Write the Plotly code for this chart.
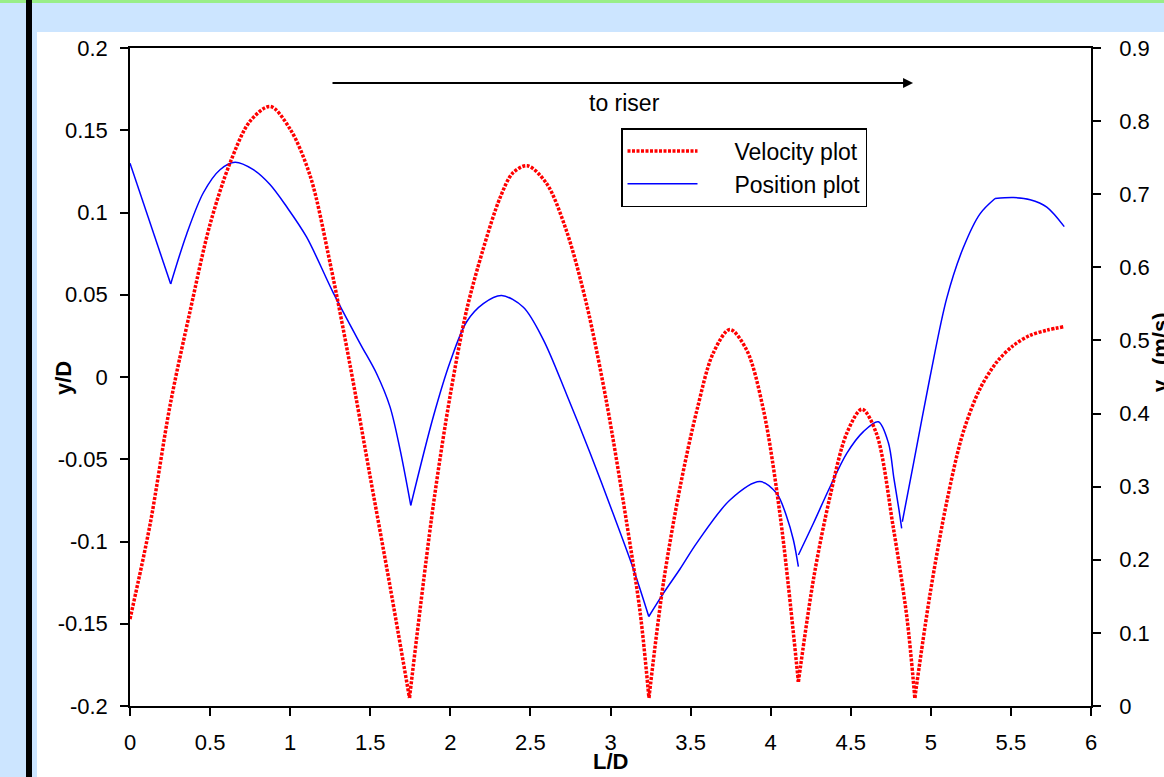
import plotly.graph_objects as go

# ---- data ----
vel_x = [0.00, 0.125, 0.25, 0.375, 0.50, 0.625, 0.75, 0.875, 1.00, 1.125, 1.25, 1.375, 1.50, 1.625, 1.745,
         1.895, 2.00, 2.10, 2.205, 2.31, 2.39, 2.48, 2.60, 2.725, 2.85, 2.975, 3.10, 3.185, 3.24,
         3.33, 3.435, 3.54, 3.64, 3.745, 3.85, 3.955, 4.06, 4.173,
         4.27, 4.37, 4.475, 4.57, 4.66, 4.765, 4.85, 4.90,
         4.995, 5.10, 5.20, 5.305, 5.41, 5.515, 5.62, 5.725, 5.835]
vel_v = [0.119, 0.248, 0.411, 0.540, 0.659, 0.743, 0.800, 0.820, 0.789, 0.725, 0.605, 0.465, 0.313, 0.162, 0.011,
         0.277, 0.426, 0.540, 0.625, 0.695, 0.729, 0.739, 0.715, 0.650, 0.550, 0.416, 0.252, 0.128, 0.011,
         0.168, 0.300, 0.405, 0.482, 0.515, 0.487, 0.405, 0.259, 0.033,
         0.177, 0.286, 0.373, 0.406, 0.373, 0.245, 0.122, 0.011,
         0.153, 0.280, 0.373, 0.433, 0.470, 0.493, 0.507, 0.514, 0.519]
# indices where the velocity curve has a sharp cusp
vel_cusps = [14, 28, 37, 45]

pos_x = [0.00, 0.254, 0.354, 0.458, 0.562, 0.656, 0.77, 0.874, 0.978, 1.103, 1.27, 1.436, 1.54, 1.623, 1.686, 1.753,
         1.894, 1.998, 2.102, 2.206, 2.32, 2.456, 2.581, 2.726, 2.872, 3.018, 3.143, 3.239,
         3.33, 3.434, 3.538, 3.746, 3.933, 4.037, 4.10, 4.142, 4.173, 4.173,
         4.267, 4.371, 4.475, 4.579, 4.672, 4.735, 4.77, 4.80, 4.818, 4.822,
         4.891, 4.995, 5.099, 5.203, 5.307, 5.401, 5.515, 5.62, 5.724, 5.833]
pos_y = [0.130, 0.0565, 0.087, 0.112, 0.126, 0.1305, 0.126, 0.117, 0.1035, 0.085, 0.051, 0.0205, 0.002, -0.018, -0.044, -0.078,
         -0.024, 0.009, 0.0336, 0.0446, 0.0495, 0.0424, 0.0226, -0.0106, -0.046, -0.0835, -0.1167, -0.1456,
         -0.1315, -0.1167, -0.101, -0.0748, -0.0636, -0.0707, -0.0849, -0.0991, -0.1153, -0.1082,
         -0.0889, -0.0667, -0.0464, -0.0332, -0.0272, -0.040, -0.062, -0.080, -0.092, -0.088,
         -0.0529, 0.000, 0.0478, 0.0787, 0.0992, 0.1085, 0.1091, 0.1078, 0.1033, 0.0914]
# indices where the position curve has a corner (segment boundaries)
pos_cusps = [1, 15, 27, (36, 37), (46, 47), 53]

x_ticks = [0, 0.5, 1, 1.5, 2, 2.5, 3, 3.5, 4, 4.5, 5, 5.5, 6]
x_labels = ["0", "0.5", "1", "1.5", "2", "2.5", "3", "3.5", "4", "4.5", "5", "5.5", "6"]
y_ticks = [0.2, 0.15, 0.1, 0.05, 0, -0.05, -0.1, -0.15, -0.2]
y_labels = ["0.2", "0.15", "0.1", "0.05", "0", "-0.05", "-0.1", "-0.15", "-0.2"]
v_ticks = [0, 0.1, 0.2, 0.3, 0.4, 0.5, 0.6, 0.7, 0.8, 0.9]
v_labels = ["0", "0.1", "0.2", "0.3", "0.4", "0.5", "0.6", "0.7", "0.8", "0.9"]

FONT = "Liberation Sans, Arial, sans-serif"
W, H = 1164, 777
L, R, T, B = 130, 73, 48, 71
pw, ph = W - L - R, H - T - B
NB = "\u00a0"


def px(x):
    return (x - L) / pw


def py(y):
    return (H - B - y) / ph


def segments(xs, ys, cusps):
    segs = []
    start = 0
    for c in cusps:
        if isinstance(c, tuple):
            end, nxt = c
        else:
            end, nxt = c, c
        segs.append((xs[start:end + 1], ys[start:end + 1]))
        start = nxt
    segs.append((xs[start:], ys[start:]))
    return segs


fig = go.Figure()
red_line = dict(color="#ff0000", width=3.5, dash="3px,1.5px", shape="spline", smoothing=0.9)
for i, (sx, sy) in enumerate(segments(vel_x, vel_v, vel_cusps)):
    fig.add_trace(go.Scatter(x=sx, y=sy, name=NB * 5 + "Velocity plot", yaxis="y2", mode="lines",
                             legendgroup="vel", showlegend=(i == 0), line=red_line))
blue_line = dict(color="#0000ff", width=1.5, shape="spline", smoothing=0.9)
for i, (sx, sy) in enumerate(segments(pos_x, pos_y, pos_cusps)):
    fig.add_trace(go.Scatter(x=sx, y=sy, name=NB * 5 + "Position plot", mode="lines",
                             legendgroup="pos", showlegend=(i == 0), line=blue_line))

shapes = [
    dict(type="rect", xref="paper", yref="paper", x0=px(0), x1=px(W), y0=py(0), y1=py(3),
         fillcolor="#99ee88", line_width=0, layer="below"),
    dict(type="rect", xref="paper", yref="paper", x0=px(37), x1=px(W + 5), y0=py(H + 5), y1=py(32),
         fillcolor="white", line_width=0, layer="below"),
    dict(type="rect", xref="paper", yref="paper", x0=px(26), x1=px(32), y0=py(H + 5), y1=py(0),
         fillcolor="black", line_width=0, layer="below"),
]

annotations = [
    dict(x=4.889, y=0.1787, ax=1.255, ay=0.1787, xref="x", yref="y", axref="x", ayref="y",
         text="", showarrow=True, arrowhead=2, arrowsize=1, arrowwidth=2, arrowcolor="black"),
    dict(x=3.09, y=0.1666, xref="x", yref="y", text="to riser", showarrow=False,
         xanchor="center", yanchor="middle",
         font=dict(family=FONT, size=23, color="black")),
    dict(x=3.0, y=py(762), xref="x", yref="paper", text="<b>L/D</b>", showarrow=False,
         xanchor="center", yanchor="middle",
         font=dict(family=FONT, size=22, color="black")),
    dict(x=px(63), y=py(378), xref="paper", yref="paper", text="<b>y/D</b>", showarrow=False,
         xanchor="center", yanchor="middle",
         textangle=-90, font=dict(family=FONT, size=22, color="black")),
    dict(x=px(1162), y=py(352), xref="paper", yref="paper", text="<b>v<sub>x</sub> (m/s)</b>",
         xanchor="center", yanchor="middle",
         showarrow=False, textangle=-90, font=dict(family=FONT, size=22, color="black")),
]

fig.update_layout(
    width=W, height=H,
    margin=dict(l=L, r=R, t=T, b=B, pad=0),
    paper_bgcolor="#cce5ff",
    plot_bgcolor="white",
    font=dict(family=FONT, size=22, color="black"),
    showlegend=True,
    legend=dict(x=px(621), y=py(128), xanchor="left", yanchor="top",
                bgcolor="white", bordercolor="black", borderwidth=1.5,
                font=dict(family=FONT, size=23, color="black"),
                itemwidth=70, tracegroupgap=0),
    xaxis=dict(range=[0, 6], tickvals=x_ticks, ticktext=x_labels, ticks="outside", ticklen=8,
               tickwidth=1.5, tickcolor="black", showline=True, linecolor="black", linewidth=1.5,
               mirror=True, showgrid=False, zeroline=False, ticklabelstandoff=8),
    yaxis=dict(range=[-0.2, 0.2], tickvals=y_ticks, ticktext=y_labels, ticks="outside", ticklen=8,
               tickwidth=1.5, tickcolor="black", showline=True, linecolor="black", linewidth=1.5,
               showgrid=False, zeroline=False, ticklabelstandoff=8),
    yaxis2=dict(range=[0, 0.9], tickvals=v_ticks, ticktext=v_labels, overlaying="y", side="right",
                ticks="outside", ticklen=8, tickwidth=1.5, tickcolor="black", showline=True,
                linecolor="black", linewidth=1.5, showgrid=False, zeroline=False, ticklabelstandoff=14),
    shapes=shapes,
    annotations=annotations,
)

fig.write_html("out.html")
